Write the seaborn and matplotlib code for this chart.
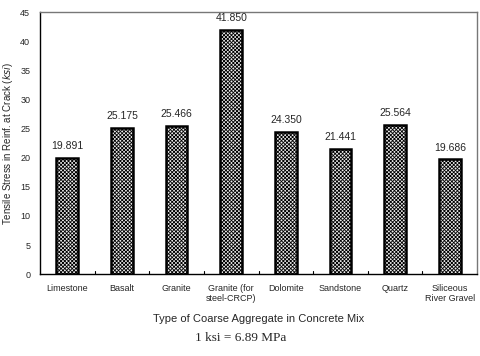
import matplotlib
matplotlib.use("Agg")
import matplotlib.pyplot as plt
import pandas as pd
import seaborn as sns

# data
aggregates = ["Limestone", "Basalt", "Granite", "Granite (for\nsteel-CRCP)",
              "Dolomite", "Sandstone", "Quartz", "Siliceous\nRiver Gravel"]
stress = [19.891, 25.175, 25.466, 41.850, 24.350, 21.441, 25.564, 19.686]
labels = ["19.891", "25.175", "25.466", "41.850", "24.350", "21.441", "25.564", "19.686"]

df = pd.DataFrame({"aggregate": aggregates, "stress": stress})

sns.set_theme(style="white")
plt.rcParams["font.family"] = ["Liberation Sans", "DejaVu Sans"]
plt.rcParams["hatch.color"] = "#5a5a5a"
plt.rcParams["hatch.linewidth"] = 0.6

fig = plt.figure(figsize=(4.81, 3.56), dpi=100)
ax = fig.add_axes([0.083, 0.230, 0.909, 0.736])

ax = sns.barplot(data=df, x="aggregate", y="stress", color="#ececec",
                 width=0.4, edgecolor="black", linewidth=1.8, ax=ax)
for p in ax.patches:
    p.set_hatch("xxxxxxxxx")

for i, (v, t) in enumerate(zip(stress, labels)):
    ax.text(i, v + 1.2, t, ha="center", va="bottom", fontsize=7.5)

ax.set_xlim(-0.5, len(aggregates) - 0.5)
ax.set_ylim(0, 45)
ax.set_yticks(range(0, 46, 5))
ax.tick_params(axis="y", labelsize=6.5, length=0, pad=7)
ax.set_xticks(range(len(aggregates)))
ax.set_xticklabels(aggregates, fontsize=6.5)
ax.tick_params(axis="x", length=0, pad=7)
# boundary tick marks between categories
for b in range(1, len(aggregates)):
    ax.plot([b - 0.5, b - 0.5], [0, 0.6], color="black", lw=0.8, clip_on=False)

for s in ["left", "bottom"]:
    ax.spines[s].set_color("black")
    ax.spines[s].set_linewidth(1.0)
for s in ["top", "right"]:
    ax.spines[s].set_color("#777777")
    ax.spines[s].set_linewidth(1.0)

ax.set_ylabel("Tensile Stress in Reinf. at Crack ($ksi$)", fontsize=7, labelpad=4)
ax.set_xlabel("Type of Coarse Aggregate in Concrete Mix", fontsize=8, labelpad=8)

fig.text(0.5, 0.05, "1 ksi = 6.89 MPa", ha="center", va="center",
         fontsize=9.5, family="Liberation Serif")

plt.savefig("out.png", dpi=100)
